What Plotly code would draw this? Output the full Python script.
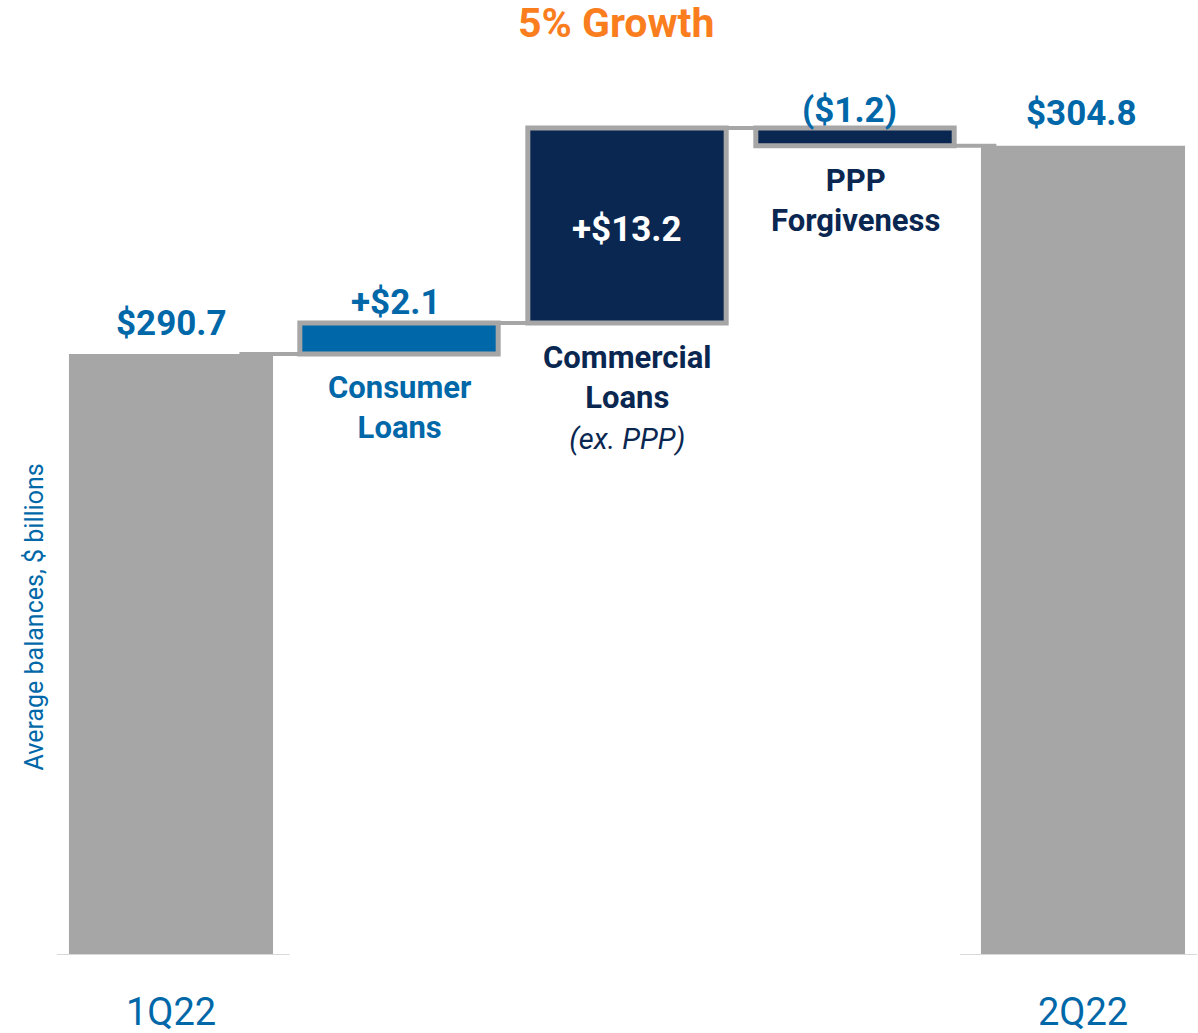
import plotly.graph_objects as go

# ---------------- data ----------------
categories = ["1Q22", "Consumer Loans", "Commercial Loans (ex. PPP)", "PPP Forgiveness", "2Q22"]
measures = ["absolute", "relative", "relative", "relative", "total"]
values = [290.7, 2.1, 13.2, -1.2, 304.8]
value_labels = ["$290.7", "+$2.1", "+$13.2", "($1.2)", "$304.8"]
below_labels = [None,
                "<b>Consumer</b><br><b>Loans</b>",
                "<b>Commercial</b><br><b>Loans</b><br><i><span style='font-size:29px'>(ex. PPP)</span></i>",
                "<b>PPP</b><br><b>Forgiveness</b>",
                None]
tick_labels = ["1Q22", "2Q22"]
title_text = "5% Growth"
y_title = "Average balances, $ billions"

# ---------------- styles ----------------
GRAY = "#A6A6A6"
BLUE = "#0068A8"
NAVY = "#0A2751"
ORANGE = "#FA7D1E"
FONT = "Roboto"
bar_colors = [GRAY, BLUE, NAVY, NAVY, GRAY]
label_colors = [BLUE, BLUE, "white", BLUE, BLUE]
below_colors = [None, BLUE, NAVY, NAVY, None]
label_shift = [31, 20, -4, 18, 32]
label_xshift = [0, -4, 0, -6, -2]
label_anchor = ["top", "top", "mid", "top", "top"]
below_shift = [0, -13, -14, -14, 0]

# ---------------- compute waterfall geometry from data ----------------
bottoms, heights, levels = [], [], []
level = 0.0
for m, v in zip(measures, values):
    if m == "absolute":
        b, t = 0.0, v
        level = v
    elif m == "relative":
        b, t = min(level, level + v), max(level, level + v)
        level = level + v
    else:  # total
        b, t = 0.0, level
    bottoms.append(b)
    heights.append(t - b)
    levels.append(level)

fig = go.Figure()
fig.add_trace(go.Bar(
    x=categories,
    y=heights,
    base=bottoms,
    width=[0.895, 0.87, 0.87, 0.87, 0.895],
    marker=dict(color=bar_colors,
                line=dict(color=GRAY, width=[0, 5, 5, 5, 0])),
    hoverinfo="skip",
    showlegend=False,
))

# connectors
for i in range(len(categories) - 1):
    fig.add_shape(type="line", xref="x", yref="y",
                  x0=i + 0.3, x1=i + 0.62, y0=levels[i], y1=levels[i],
                  line=dict(color=GRAY, width=4), layer="below")

# baseline segments under the total bars
fig.add_shape(type="line", xref="x", yref="y", x0=-0.5, x1=0.52, y0=250, y1=250,
              line=dict(color="#D9D9D9", width=2), layer="above")
fig.add_shape(type="line", xref="x", yref="y", x0=3.46, x1=4.5, y0=250, y1=250,
              line=dict(color="#D9D9D9", width=2), layer="above")

# value labels
for i, cat in enumerate(categories):
    top = bottoms[i] + heights[i]
    if label_anchor[i] == "mid":
        yv = max(bottoms[i], 250) + (top - max(bottoms[i], 250)) / 2
    else:
        yv = top
    fig.add_annotation(x=cat, y=yv, xref="x", yref="y", text="<b>" + value_labels[i] + "</b>",
                       showarrow=False, yanchor="middle", yshift=label_shift[i],
                       xshift=label_xshift[i],
                       font=dict(family=FONT, size=35, color=label_colors[i]))
    if below_labels[i]:
        fig.add_annotation(x=cat, y=bottoms[i], xref="x", yref="y", text=below_labels[i],
                           showarrow=False, yanchor="top", yshift=below_shift[i],
                           font=dict(family=FONT, size=31, color=below_colors[i]))

# title
fig.add_annotation(x=0.4903, y=1, xref="paper", yref="paper", yanchor="bottom", yshift=20,
                   text="<b>" + title_text + "</b>", showarrow=False,
                   font=dict(family=FONT, size=41, color=ORANGE))

# y axis title
fig.add_annotation(x=0, y=0.381, xref="paper", yref="paper", xanchor="center", xshift=-23,
                   text=y_title, textangle=-90, showarrow=False,
                   font=dict(family=FONT, size=25, color=BLUE))

fig.update_layout(
    width=1198, height=1033,
    margin=dict(l=57, r=1, t=69, b=78),
    plot_bgcolor="white", paper_bgcolor="white",
    barmode="overlay",
    xaxis=dict(type="category", range=[-0.5, 4.5], showgrid=False, zeroline=False,
               showline=False, tickmode="array", automargin=False,
               tickvals=[categories[0], categories[-1]], ticktext=tick_labels,
               ticks="outside", ticklen=23, tickcolor="rgba(0,0,0,0)",
               tickfont=dict(family=FONT, size=38, color=BLUE)),
    yaxis=dict(range=[250, 310], visible=False, showgrid=False, zeroline=False,
               automargin=False),
)

fig.write_html("out.html", config={"displayModeBar": False},
               post_script=["document.body.style.margin='0px';document.body.style.overflow='hidden';"])
